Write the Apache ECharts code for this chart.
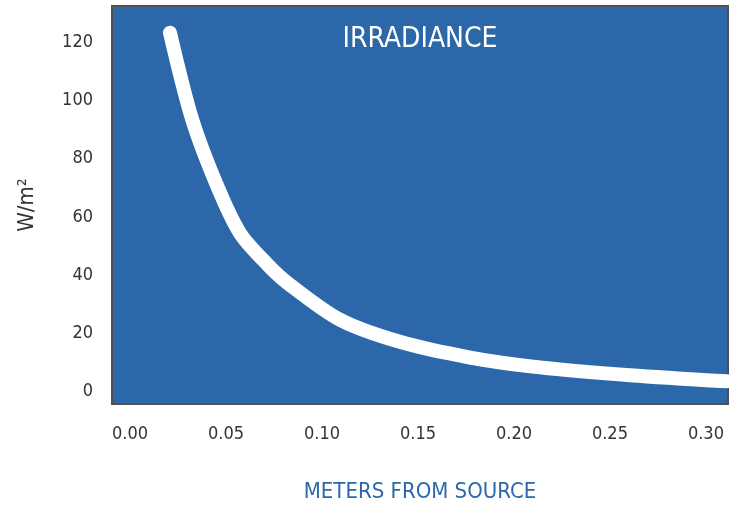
<!DOCTYPE html>
<html>
<head>
<meta charset="utf-8">
<script src="https://cdn.jsdelivr.net/npm/echarts@6/dist/echarts.min.js"></script>
<style>
html,body{margin:0;padding:0;background:#fff;}
#chart{width:730px;height:508px;}
</style>
</head>
<body>
<div id="chart"></div>
<script>
var distances = [0.0208, 0.0323, 0.0453, 0.0573, 0.0719, 0.0818, 0.1094, 0.1406, 0.1771, 0.2135, 0.2604, 0.3109];
var irradiance = [123.4, 93.7, 70.8, 54.4, 43.4, 37.4, 24.6, 17.0, 11.6, 8.2, 5.5, 3.4];
var xTicks = [0, 0.05, 0.10, 0.15, 0.20, 0.25, 0.30];
var yTicks = [0, 20, 40, 60, 80, 100, 120];
var chartTitle = 'IRRADIANCE';
var xTitle = 'METERS FROM SOURCE';
var yTitle = 'W/m²';

var narrow = "'Liberation Sans Narrow', 'DejaVu Sans Condensed', sans-serif";
var cond = "'DejaVu Sans Condensed', 'Liberation Sans Narrow', sans-serif";

var chart = echarts.init(document.getElementById('chart'), null, {renderer: 'canvas'});
chart.setOption({
  animation: false,
  grid: {
    left: 112, right: 2, top: 6, bottom: 96,
    show: true, backgroundColor: '#2C68A9', borderColor: '#505050', borderWidth: 2
  },
  graphic: [{
    type: 'text', x: 420, y: 40, z: 10,
    style: {text: chartTitle, fill: '#ffffff', font: '500 28px ' + narrow, textAlign: 'center', textVerticalAlign: 'middle'}
  }],
  xAxis: {
    type: 'value', min: -0.0094, max: 0.3115,
    name: xTitle, nameLocation: 'middle', nameGap: 77,
    nameTextStyle: {color: '#2C68A9', fontFamily: narrow, fontSize: 22, fontWeight: 500},
    axisLine: {show: false}, axisTick: {show: false}, splitLine: {show: false},
    axisLabel: {
      customValues: xTicks, color: '#333333', fontFamily: cond, fontSize: 18, margin: 21,
      formatter: function (v) { return v.toFixed(2); }
    }
  },
  yAxis: {
    type: 'value', min: -4.4, max: 132.6,
    name: yTitle, nameLocation: 'middle', nameGap: 74, nameRotate: 90,
    nameTextStyle: {color: '#333333', fontFamily: cond, fontSize: 22, fontWeight: 500},
    axisLine: {show: false}, axisTick: {show: false}, splitLine: {show: false},
    axisLabel: {customValues: yTicks, color: '#333333', fontFamily: cond, fontSize: 18, margin: 19}
  },
  series: [{
    type: 'line',
    data: distances.map(function (d, i) { return [d, irradiance[i]]; }),
    smooth: 0.3, symbol: 'none', clip: true,
    lineStyle: {color: '#ffffff', width: 14, cap: 'round', join: 'round'}
  }]
});
</script>
</body>
</html>
